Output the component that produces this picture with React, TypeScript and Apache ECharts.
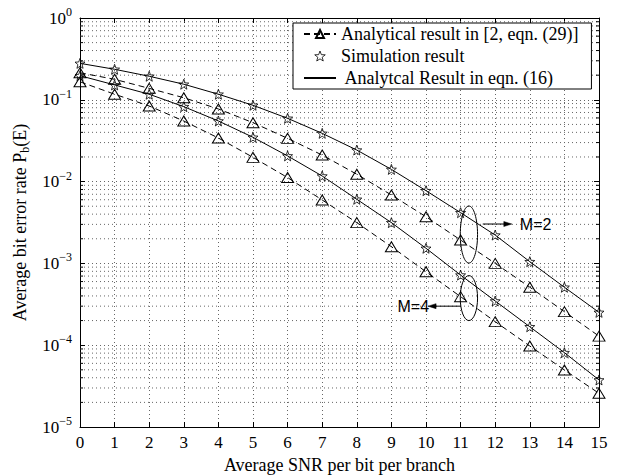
import React, { useEffect, useRef } from 'react';
import * as echarts from 'echarts';

// ---------- data ----------
const snr = [0, 1, 2, 3, 4, 5, 6, 7, 8, 9, 10, 11, 12, 13, 14, 15];

// Analytical result in [2, eqn. (29)] (dashed, triangles)
const refM2 = [0.214, 0.178, 0.138, 0.106, 0.0772, 0.0525, 0.0338, 0.0211, 0.0123, 0.00686, 0.00372, 0.00193, 0.001, 0.000512, 0.000257, 0.000129];
const refM4 = [0.166, 0.117, 0.084, 0.055, 0.0341, 0.0198, 0.0112, 0.00596, 0.00315, 0.0016, 0.00079, 0.000392, 0.000194, 0.0000978, 0.0000498, 0.0000258];

// Simulation result (stars)
const simM2 = [0.279, 0.236, 0.194, 0.155, 0.117, 0.0857, 0.0594, 0.0389, 0.0243, 0.0141, 0.00774, 0.00417, 0.00222, 0.00105, 0.000511, 0.000252];
const simM4 = [0.197, 0.152, 0.117, 0.0824, 0.0551, 0.0348, 0.0206, 0.0117, 0.00608, 0.00315, 0.00153, 0.00072, 0.000347, 0.000168, 0.0000811, 0.0000376];

// Analytical result in eqn. (16) (solid)
const eqnM2 = [0.279, 0.236, 0.194, 0.155, 0.117, 0.0857, 0.0594, 0.0389, 0.0243, 0.0141, 0.00774, 0.00417, 0.00222, 0.00105, 0.000511, 0.000252];
const eqnM4 = [0.197, 0.152, 0.117, 0.0824, 0.0551, 0.0348, 0.0206, 0.0117, 0.00608, 0.00315, 0.00153, 0.00072, 0.000347, 0.000168, 0.0000811, 0.0000376];

const yMin = 1e-5;
const yMax = 1;
const xMin = 0;
const xMax = 15;

const NAME_REF = 'Analytical result in [2, eqn. (29)]';
const NAME_SIM = 'Simulation result';
const NAME_EQN = ' Analytcal Result in eqn. (16)';

// minor log grid values (2..9 per decade)
const minorVals: number[] = [];
for (let e = -5; e < 0; e++) {
  for (let m = 2; m <= 9; m++) minorVals.push(m * Math.pow(10, e));
}

// annotations (in data coordinates)
const annM2 = { cx: 11.24, top: 0.00503, bottom: 0.00101, rx: 0.25, ay: 0.00303, from: 11.64, to: 12.48, label: 'M=2' };
const annM4 = { cx: 11.24, top: 0.00071, bottom: 0.0002, rx: 0.25, ay: 0.0003, from: 11.0, to: 10.06, label: 'M=4' };

const SERIF = 'Liberation Serif';
const SANS = 'Liberation Sans';

function starPath(): string {
  const pts: string[] = [];
  for (let i = 0; i < 10; i++) {
    const r = i % 2 === 0 ? 1 : 0.42;
    const a = -Math.PI / 2 + (i * Math.PI) / 5;
    pts.push(`${(r * Math.cos(a)).toFixed(4)} ${(r * Math.sin(a)).toFixed(4)}`);
  }
  return 'path://M' + pts.join(' L') + ' Z';
}

const zip = (xs: number[], ys: number[]) => xs.map((x, i) => [x, ys[i]]);

export default function App() {
  const ref = useRef<HTMLDivElement>(null);
  useEffect(() => {
    if (!ref.current) return;
    const chart = echarts.init(ref.current, undefined, { renderer: 'svg' });
    const STAR = starPath();
    const dotted = { color: '#666', type: [1, 3] as number[], width: 1 };

    const triSeries = (data: number[]) => ({
      type: 'line',
      name: NAME_REF,
      data: zip(snr, data),
      symbol: 'triangle',
      symbolSize: [12, 10],
      showAllSymbol: true,
      lineStyle: { color: '#000', width: 1, type: [6, 4] },
      itemStyle: { color: 'none', borderColor: '#000', borderWidth: 1 },
      z: 5,
    });
    const starSeries = (data: number[]) => ({
      type: 'scatter',
      name: NAME_SIM,
      data: zip(snr, data),
      symbol: STAR,
      symbolSize: 10,
      itemStyle: { color: 'none', borderColor: '#000', borderWidth: 1 },
      z: 6,
    });
    const eqnSeries = (data: number[]) => ({
      type: 'line',
      name: NAME_EQN,
      data: zip(snr, data),
      symbol: 'none',
      lineStyle: { color: '#000', width: 1, type: 'solid' },
      itemStyle: { color: '#000' },
      z: 4,
    });

    const option: any = {
      animation: false,
      backgroundColor: '#fff',
      textStyle: { fontFamily: SERIF, color: '#000' },
      grid: { left: 80, right: 22, top: 18, bottom: 48, outerBoundsMode: 'none' },
      legend: {
        data: [
          { name: NAME_REF },
          { name: NAME_SIM, itemStyle: { borderWidth: 1 } },
          { name: NAME_EQN, itemStyle: { opacity: 0 } },
        ],
        orient: 'vertical',
        left: 293,
        top: 23,
        padding: [2, 13, 2, 10],
        itemGap: 4,
        itemWidth: 32,
        itemHeight: 10,
        backgroundColor: '#fff',
        borderColor: '#000',
        borderWidth: 1,
        borderRadius: 0,
        selectedMode: false,
        textStyle: { fontFamily: SERIF, fontSize: 18, lineHeight: 18, color: '#000' },
      },
      xAxis: [
        {
          type: 'value',
          min: xMin,
          max: xMax,
          interval: 1,
          name: 'Average SNR per bit per branch',
          nameLocation: 'middle',
          nameGap: 23,
          nameTextStyle: { fontFamily: SERIF, fontSize: 18, color: '#000' },
          axisLine: { show: true, onZero: false, lineStyle: { color: '#000', width: 1 } },
          axisTick: { show: true, inside: true, length: 5, lineStyle: { color: '#000' } },
          axisLabel: { fontFamily: SERIF, fontSize: 17, color: '#000', margin: 7 },
          splitLine: { show: true, lineStyle: dotted },
        },
        {
          type: 'value',
          position: 'top',
          min: xMin,
          max: xMax,
          interval: 1,
          axisLine: { show: true, onZero: false, lineStyle: { color: '#000', width: 1 } },
          axisTick: { show: true, inside: true, length: 5, lineStyle: { color: '#000' } },
          axisLabel: { show: false },
          splitLine: { show: false },
        },
      ],
      yAxis: [
        {
          type: 'log',
          logBase: 10,
          min: yMin,
          max: yMax,
          name: '{n|Average bit error rate P}{s|b}{n|(E)}',
          nameLocation: 'middle',
          nameGap: 48,
          nameTextStyle: {
            color: '#000',
            fontFamily: SERIF,
            rich: {
              n: { fontFamily: SERIF, fontSize: 18, color: '#000' },
              s: { fontFamily: SERIF, fontSize: 12, color: '#000', padding: [10, 0, 0, 0] },
            },
          },
          axisLine: { show: true, onZero: false, lineStyle: { color: '#000', width: 1 } },
          axisTick: { show: true, inside: true, length: 5, lineStyle: { color: '#000' } },
          axisLabel: {
            margin: 8,
            fontFamily: SERIF,
            formatter: (v: number) => {
              const e = Math.round(Math.log10(v));
              return `{a|10}{b|${e < 0 ? '\u2212' + -e : e}}`;
            },
            rich: {
              a: { fontFamily: SERIF, fontSize: 17, color: '#000' },
              b: { fontFamily: SERIF, fontSize: 12, color: '#000', padding: [0, 0, 12, 0] },
            },
          },
          splitLine: { show: true, lineStyle: dotted },
        },
        {
          type: 'log',
          logBase: 10,
          position: 'right',
          min: yMin,
          max: yMax,
          axisLine: { show: true, onZero: false, lineStyle: { color: '#000', width: 1 } },
          axisTick: { show: true, inside: true, length: 5, lineStyle: { color: '#000' } },
          axisLabel: { show: false },
          splitLine: { show: false },
        },
      ],
      series: [
        {
          type: 'custom',
          name: 'minor',
          silent: true,
          z: 1,
          data: minorVals.map((v) => [xMin, v]),
          renderItem: (_p: any, api: any) => {
            const v = api.value(1);
            const a = api.coord([xMin, v]);
            const b = api.coord([xMax, v]);
            return {
              type: 'group',
              children: [
                { type: 'line', shape: { x1: a[0], y1: a[1], x2: b[0], y2: b[1] }, style: { stroke: '#666', lineWidth: 1, lineDash: [1, 3] } },
                { type: 'line', shape: { x1: a[0], y1: a[1], x2: a[0] + 3, y2: a[1] }, style: { stroke: '#000', lineWidth: 1 } },
                { type: 'line', shape: { x1: b[0] - 3, y1: b[1], x2: b[0], y2: b[1] }, style: { stroke: '#000', lineWidth: 1 } },
              ],
            };
          },
        },
        triSeries(refM2),
        triSeries(refM4),
        starSeries(simM2),
        starSeries(simM4),
        eqnSeries(eqnM2),
        eqnSeries(eqnM4),
      ],
    };
    chart.setOption(option);

    const px = (x: number, y: number) => chart.convertToPixel({ xAxisIndex: 0, yAxisIndex: 0 }, [x, y]) as number[];
    const graphics: any[] = [];
    const addAnn = (an: typeof annM2, labelSide: 'right' | 'left') => {
      const t = px(an.cx, an.top);
      const bt = px(an.cx, an.bottom);
      const rxp = px(an.cx + an.rx, an.top)[0] - t[0];
      graphics.push({
        type: 'ellipse',
        shape: { cx: t[0], cy: (t[1] + bt[1]) / 2, rx: rxp, ry: (bt[1] - t[1]) / 2 },
        style: { fill: 'none', stroke: '#000', lineWidth: 1 },
        z: 10,
      });
      const f = px(an.from, an.ay);
      const to = px(an.to, an.ay);
      const dir = to[0] > f[0] ? 1 : -1;
      graphics.push({
        type: 'line',
        shape: { x1: f[0], y1: f[1], x2: to[0] - dir * 6, y2: to[1] },
        style: { stroke: '#000', lineWidth: 1 },
        z: 10,
      });
      graphics.push({
        type: 'polygon',
        shape: { points: [[to[0], to[1]], [to[0] - dir * 8, to[1] - 2.5], [to[0] - dir * 8, to[1] + 2.5]] },
        style: { fill: '#000', stroke: '#000', lineWidth: 0.5 },
        z: 10,
      });
      graphics.push({
        type: 'text',
        x: labelSide === 'right' ? to[0] + 8 : to[0] + 1,
        y: to[1],
        style: {
          text: an.label,
          fontFamily: SANS,
          fontSize: 16,
          fill: '#000',
          align: labelSide === 'right' ? 'left' : 'right',
          verticalAlign: 'middle',
        },
        z: 10,
      });
    };
    addAnn(annM2, 'right');
    addAnn(annM4, 'left');
    chart.setOption({ graphic: graphics });

    return () => chart.dispose();
  }, []);
  return <div ref={ref} style={{ position: 'fixed', left: 0, top: 0, width: 621, height: 475, background: '#fff' }} />;
}
